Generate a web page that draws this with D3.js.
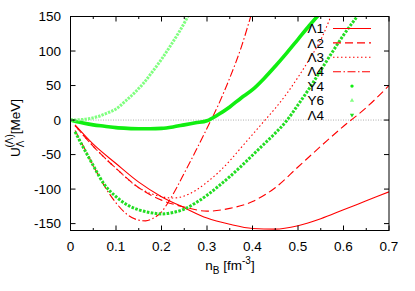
<!DOCTYPE html>
<html>
<head>
<meta charset="utf-8">
<script src="https://cdn.jsdelivr.net/npm/d3@7"></script>
<style>
  body { margin: 0; background: #fff; }
  text { font-family: "Liberation Sans", Arial, sans-serif; }
</style>
</head>
<body>
<div id="chart"></div>
<script>
// density n_B [fm^-3] and potential U [MeV]
const lam1N = [0.01, 0.05, 0.1, 0.15, 0.2, 0.25, 0.3, 0.35, 0.4, 0.45, 0.5, 0.55, 0.6, 0.65, 0.7];
const lam1U = [-7, -35, -63, -90, -111, -127, -142, -151, -157, -158, -153, -143, -130, -117, -104];

const lam2N = [0.01, 0.05, 0.1, 0.15, 0.2, 0.25, 0.3, 0.35, 0.4, 0.45, 0.5, 0.55, 0.6, 0.65, 0.7];
const lam2U = [-8, -38, -70, -98, -116, -126, -132, -128, -118, -98, -68, -38, -9, 18, 50];

const lam3N = [0.01, 0.05, 0.1, 0.15, 0.2, 0.225, 0.25, 0.275, 0.3, 0.325, 0.35, 0.375, 0.4, 0.425, 0.45, 0.475, 0.5, 0.525, 0.55, 0.572];
const lam3U = [-8, -38, -70, -98, -111, -113, -110, -102, -90, -76, -59, -40, -21, -2, 17, 38, 62, 88, 116, 150];

const lam4N = [0.01, 0.03, 0.05, 0.075, 0.1, 0.125, 0.15, 0.165, 0.18, 0.2, 0.215, 0.23, 0.25, 0.275, 0.3, 0.325, 0.35, 0.375, 0.396];
const lam4U = [-15, -40, -66, -96, -120, -137, -145, -146, -143, -133, -119, -102, -77, -45, -12, 22, 61, 105, 150];

const y4N = [0, 0.025, 0.05, 0.075, 0.1, 0.125, 0.15, 0.175, 0.2, 0.225, 0.25, 0.275, 0.3, 0.325, 0.35, 0.375, 0.4, 0.425, 0.45, 0.475, 0.5, 0.525, 0.545];
const y4U = [0, -4, -7, -9, -11, -12, -12.5, -12.5, -12, -10, -7, -4, -1, 8, 19, 32, 44, 60, 78, 97, 117, 137, 152];

const y6N = [0, 0.02, 0.04, 0.06, 0.08, 0.1, 0.12, 0.14, 0.16, 0.18, 0.2, 0.22, 0.24, 0.258];
const y6U = [0, 0.5, 2, 5, 10, 16, 27, 39, 53, 70, 88, 108, 129, 150];

const lam4gN = [0.01, 0.03, 0.05, 0.075, 0.1, 0.125, 0.15, 0.175, 0.2, 0.225, 0.25, 0.275, 0.3, 0.325, 0.35, 0.375, 0.4, 0.425, 0.45, 0.475, 0.5, 0.525, 0.55, 0.575, 0.6, 0.63];
const lam4gU = [-17, -42, -66, -94, -111, -123, -130, -134, -136, -134, -129, -120, -109, -96, -82, -67, -51, -35, -19, -1, 22, 46, 72, 98, 123, 150];

const legendNames = ["\u039B1", "\u039B2", "\u039B3", "\u039B4", "Y4", "Y6", "\u039B4"];
const xTicks = [0, 0.1, 0.2, 0.3, 0.4, 0.5, 0.6, 0.7];
const yTicks = [-150, -100, -50, 0, 50, 100, 150];

let series = [
    { n: lam1N, u: lam1U, kind: "line", color: "#ff0000", dash: null },
    { n: lam2N, u: lam2U, kind: "line", color: "#ff0000", dash: "8,4" },
    { n: lam3N, u: lam3U, kind: "line", color: "#ff0000", dash: "1.5,2.5" },
    { n: lam4N, u: lam4U, kind: "line", color: "#ff0000", dash: "8,2.5,1.5,2.5" },
    { n: y4N, u: y4U, kind: "circ", color: "#11ee11" },
    { n: y6N, u: y6U, kind: "tri", color: "#80ff80" },
    { n: lam4gN, u: lam4gU, kind: "dtri", color: "#22dd22" }
];

let width = 415, height = 291;
let margin = { top: 16.5, right: 26, bottom: 60.5, left: 70.5 };

let svg = d3.select("#chart").append("svg")
    .attr("width", width)
    .attr("height", height);

let x = d3.scaleLinear().domain([0, 0.7]).range([margin.left, width - margin.right]);
let y = d3.scaleLinear().domain([-160, 150]).range([height - margin.bottom, margin.top]);

let x0 = x.range()[0], x1 = x.range()[1];
let y0 = y.range()[1], y1 = y.range()[0];

svg.append("clipPath").attr("id", "plotclip")
    .append("rect")
    .attr("x", x0).attr("y", y0)
    .attr("width", x1 - x0).attr("height", y1 - y0);

// zero axis
svg.append("line")
    .attr("x1", x0).attr("x2", x1)
    .attr("y1", y(0)).attr("y2", y(0))
    .attr("stroke", "#999")
    .attr("stroke-width", 0.8)
    .attr("stroke-dasharray", "1,1.5");

let line = d3.line()
    .x(function (d) { return x(d[0]); })
    .y(function (d) { return y(d[1]); })
    .curve(d3.curveMonotoneX);

let plot = svg.append("g").attr("clip-path", "url(#plotclip)");

series.forEach(function (s) {
    let pts = s.n.map(function (v, i) { return [v, s.u[i]]; });
    let p = plot.append("path")
        .attr("d", line(pts))
        .attr("fill", "none")
        .attr("stroke", s.color);
    if (s.kind === "line") {
        p.attr("stroke-width", 1.1);
        if (s.dash) p.attr("stroke-dasharray", s.dash);
    } else if (s.kind === "circ") {
        p.attr("stroke-width", 3.6);
    } else if (s.kind === "tri") {
        p.attr("stroke-width", 3).attr("stroke-dasharray", "2.4,1.1");
    } else {
        p.attr("stroke-width", 3).attr("stroke-dasharray", "2.6,1.4");
    }
});

// axes, gnuplot style: inward ticks mirrored on all sides
let frame = svg.append("g").attr("stroke", "#000").attr("stroke-width", 1);
frame.append("rect")
    .attr("x", x0).attr("y", y0)
    .attr("width", x1 - x0).attr("height", y1 - y0)
    .attr("fill", "none");

let xMinor = d3.range(0.05, 0.7, 0.1);
xTicks.forEach(function (t) {
    frame.append("line").attr("x1", x(t)).attr("x2", x(t)).attr("y1", y1).attr("y2", y1 - 5);
    frame.append("line").attr("x1", x(t)).attr("x2", x(t)).attr("y1", y0).attr("y2", y0 + 5);
});
xMinor.forEach(function (t) {
    frame.append("line").attr("x1", x(t)).attr("x2", x(t)).attr("y1", y1).attr("y2", y1 - 2.5);
    frame.append("line").attr("x1", x(t)).attr("x2", x(t)).attr("y1", y0).attr("y2", y0 + 2.5);
});
yTicks.forEach(function (t) {
    frame.append("line").attr("x1", x0).attr("x2", x0 + 5).attr("y1", y(t)).attr("y2", y(t));
    frame.append("line").attr("x1", x1).attr("x2", x1 - 5).attr("y1", y(t)).attr("y2", y(t));
});

svg.selectAll(".xlab").data(xTicks).enter().append("text")
    .attr("x", function (d) { return x(d); })
    .attr("y", 251)
    .attr("text-anchor", "middle")
    .style("font-size", "13.5px")
    .text(function (d) { return d === 0 ? "0" : d3.format(".1f")(d); });

svg.selectAll(".ylab").data(yTicks).enter().append("text")
    .attr("x", 61)
    .attr("y", function (d) { return y(d); })
    .attr("dy", "0.35em")
    .attr("text-anchor", "end")
    .style("font-size", "13.5px")
    .text(function (d) { return d; });

// axis titles
let xt = svg.append("text")
    .attr("x", 230).attr("y", 270)
    .attr("text-anchor", "middle")
    .style("font-size", "13.5px");
xt.append("tspan").text("n");
xt.append("tspan").attr("dy", 4).style("font-size", "10px").text("B");
xt.append("tspan").attr("dy", -4).text(" [fm");
xt.append("tspan").attr("dy", -6).style("font-size", "10px").text("-3");
xt.append("tspan").attr("dy", 6).text("]");

let yt = svg.append("text")
    .attr("transform", "translate(20,128) rotate(-90)")
    .attr("text-anchor", "middle")
    .style("font-size", "13.5px");
yt.append("tspan").text("U");
yt.append("tspan").attr("dy", 4).style("font-size", "10px").text("\u039B");
yt.append("tspan").attr("dx", -7).attr("dy", -11).style("font-size", "10px").text("(\u039B)");
yt.append("tspan").attr("dy", 7).text("[MeV]");

// legend
let legY = d3.range(legendNames.length).map(function (i) { return 28.5 + i * 14.4; });
let leg = svg.append("g");
legendNames.forEach(function (name, i) {
    let s = series[i];
    leg.append("text")
        .attr("x", 324).attr("y", legY[i])
        .attr("dy", "0.35em")
        .attr("text-anchor", "end")
        .style("font-size", "13.5px")
        .text(name);
    if (s.kind === "line") {
        let l = leg.append("line")
            .attr("x1", 333).attr("x2", 371)
            .attr("y1", legY[i]).attr("y2", legY[i])
            .attr("stroke", s.color)
            .attr("stroke-width", 1.1);
        if (s.dash) l.attr("stroke-dasharray", s.dash);
    } else if (s.kind === "circ") {
        leg.append("circle").attr("cx", 352).attr("cy", legY[i]).attr("r", 1.7).attr("fill", s.color);
    } else if (s.kind === "tri") {
        leg.append("path").attr("d", d3.symbol(d3.symbolTriangle, 8)())
            .attr("transform", "translate(352," + legY[i] + ")").attr("fill", s.color);
    } else {
        leg.append("path").attr("d", d3.symbol(d3.symbolTriangle, 8)())
            .attr("transform", "translate(352," + legY[i] + ") rotate(180)").attr("fill", s.color);
    }
});
</script>
</body>
</html>
